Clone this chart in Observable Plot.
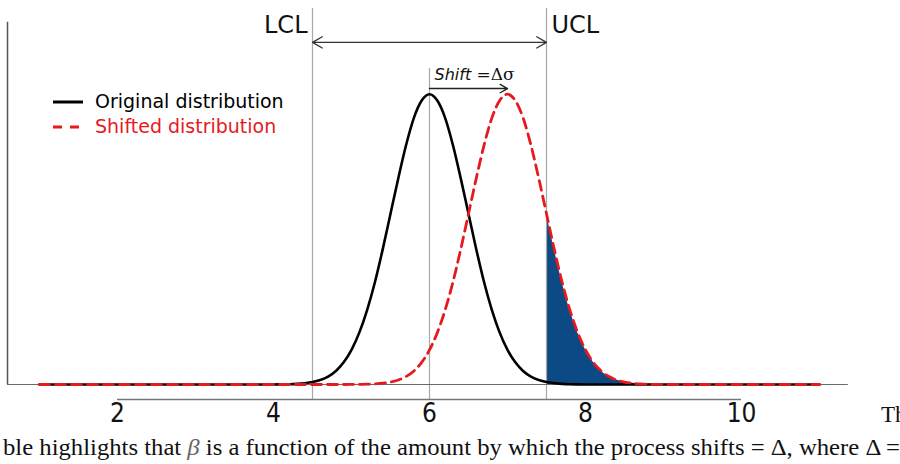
<!DOCTYPE html>
<html>
<head>
<meta charset="utf-8">
<script src="https://cdn.jsdelivr.net/npm/d3@7"></script>
<script src="https://cdn.jsdelivr.net/npm/@observablehq/plot@0.6"></script>
<style>
  html, body { margin: 0; padding: 0; background: #fff; overflow: hidden; width: 900px; height: 464px; }
  #wrap { position: relative; width: 900px; height: 464px; }
  #legend { position: absolute; left: 53px; top: 89px; font-family: "DejaVu Sans", sans-serif; font-size: 19px; line-height: 25px; }
  #legend .row { display: flex; align-items: center; white-space: nowrap; }
  #legend svg { margin-right: 12px; }
  #para-start { position: absolute; left: 881px; top: 403px; font-family: "Liberation Serif", serif; font-size: 23px; line-height: 1; color: #111; }
  #caption { display: block; }
</style>
</head>
<body>
<div id="wrap">
  <div id="chart"></div>
  <div id="legend"></div>
  <div id="para-start">Th</div>
  <svg id="caption" width="900" height="34">
    <text x="3" y="25" textLength="897" lengthAdjust="spacingAndGlyphs"
          font-family="Liberation Serif, serif" font-size="24" fill="#111">ble highlights that <tspan font-style="italic" fill="#666">β</tspan> is a function of the amount by which the process shifts = Δ, where Δ =</text>
  </svg>
</div>
<script>
// Sample positions along the measurement axis
const xs = [1, 2, 3, 3.5,
  4.0, 4.1, 4.2, 4.3, 4.4, 4.5, 4.6, 4.7, 4.8, 4.9,
  5.0, 5.1, 5.2, 5.3, 5.4, 5.5, 5.6, 5.7, 5.8, 5.9,
  6.0,
  6.1, 6.2, 6.3, 6.4, 6.5, 6.6, 6.7, 6.8, 6.9, 7.0,
  7.1, 7.2, 7.3, 7.4, 7.5, 7.6, 7.7, 7.8, 7.9, 8.0,
  8.1, 8.2, 8.3, 8.4, 8.5, 8.6, 8.7, 8.8, 8.9, 9.0,
  9.5, 10, 11];

// In-control process density (centred on 6)
const original = [0, 0, 0, 0,
  0.0001, 0.0004, 0.0008, 0.0018, 0.0036, 0.0069, 0.0128, 0.0226, 0.0385, 0.0629,
  0.0982, 0.147, 0.211, 0.290, 0.383, 0.484, 0.585, 0.679, 0.756, 0.805,
  0.823,
  0.805, 0.756, 0.679, 0.585, 0.484, 0.383, 0.290, 0.211, 0.147, 0.0982,
  0.0629, 0.0385, 0.0226, 0.0128, 0.0069, 0.0036, 0.0018, 0.0008, 0.0004, 0.0001,
  0, 0, 0, 0, 0, 0, 0, 0, 0, 0,
  0, 0, 0];

// Density after the mean shift (centred on 7)
const shifted = [0, 0, 0, 0,
  0, 0, 0, 0, 0, 0, 0, 0, 0, 0,
  0.0001, 0.0004, 0.0008, 0.0018, 0.0036, 0.0069, 0.0128, 0.0226, 0.0385, 0.0629,
  0.0982,
  0.147, 0.211, 0.290, 0.383, 0.484, 0.585, 0.679, 0.756, 0.805, 0.823,
  0.805, 0.756, 0.679, 0.585, 0.484, 0.383, 0.290, 0.211, 0.147, 0.0982,
  0.0629, 0.0385, 0.0226, 0.0128, 0.0069, 0.0036, 0.0018, 0.0008, 0.0004, 0.0001,
  0, 0, 0];

const limitLabels = ["LCL", "UCL"];
const limitValues = [4.5, 7.5];
const means = [6, 7];
const xTicks = [2, 4, 6, 8, 10];
const seriesLabels = ["Original distribution", "Shifted distribution"];
const shiftLabel = ["Shift", " =Δσ"];

// Layout constants (in data units of the y scale)
const Y_MAX = 1.066;
const AXIS_Y = -0.0425;
const FRAME_X = [0.59, 11.37];
const FRAME_TOP = 1.027;
const MEAN_RULE_TOP = 0.896;
const LIMIT_ARROW_Y = 0.970;
const LIMIT_LABEL_Y = 1.018;
const SHIFT_ARROW_Y = 0.839;
const SHIFT_LABEL_Y = 0.879;

const RED = "#e6191f";
const BLUE = "#0b4a84";

const rows = xs.map((x, i) => ({x, original: original[i], shifted: shifted[i]}));
const tail = rows.filter(d => d.x >= limitValues[1] && d.x <= 9);
const limits = limitLabels.map((label, i) => ({label, x: limitValues[i]}));
const mid = (limitValues[0] + limitValues[1]) / 2;

const chart = Plot.plot({
  width: 900,
  height: 430,
  marginLeft: 39,
  marginRight: 81,
  marginTop: 8,
  marginBottom: 46,
  x: {domain: [1, 11], axis: null, label: null},
  y: {domain: [0, Y_MAX], axis: null},
  style: {fontFamily: "DejaVu Sans, sans-serif", background: "white", overflow: "visible"},
  marks: [
    // beta region: shifted density beyond the UCL
    Plot.areaY(tail, {x: "x", y: "shifted", fill: BLUE, curve: "monotone-x"}),
    // control limits and in-control mean
    Plot.ruleX(limitValues, {y1: AXIS_Y, y2: Y_MAX, stroke: "#a8a8a8", strokeWidth: 1.2}),
    Plot.ruleX([means[0]], {y1: AXIS_Y, y2: MEAN_RULE_TOP, stroke: "#a8a8a8", strokeWidth: 1.2}),
    // plot frame (left and bottom)
    Plot.ruleY([0], {x1: FRAME_X[0], x2: FRAME_X[1], stroke: "#6a6a6a", strokeWidth: 1.2}),
    Plot.ruleX([FRAME_X[0]], {y1: 0, y2: FRAME_TOP, stroke: "#555", strokeWidth: 1.5}),
    // detached x axis line
    Plot.ruleY([AXIS_Y], {x1: () => xTicks[0], x2: () => xTicks[xTicks.length - 1], stroke: "#777", strokeWidth: 1.3}),
    Plot.axisX(xTicks, {tickSize: 0, tickPadding: 19, label: null, fontSize: 26, fontFamily: "Liberation Sans Narrow, DejaVu Sans Condensed, sans-serif", fill: "#111"}),
    // distributions
    Plot.line(rows, {x: "x", y: "original", stroke: "#000", strokeWidth: 2.6, curve: "monotone-x"}),
    Plot.line(rows, {x: "x", y: "shifted", stroke: RED, strokeWidth: 2.8, strokeDasharray: "10,6", curve: "monotone-x"}),
    // LCL <-> UCL span
    Plot.arrow(limitValues, {x1: () => mid, x2: d => d, y1: LIMIT_ARROW_Y, y2: LIMIT_ARROW_Y, stroke: "#333", strokeWidth: 1.3, headLength: 13}),
    Plot.text(limits.slice(0, 1), {x: "x", y: LIMIT_LABEL_Y, text: "label", textAnchor: "end", dx: -5, fontSize: 24, fill: "#111"}),
    Plot.text(limits.slice(1), {x: "x", y: LIMIT_LABEL_Y, text: "label", textAnchor: "start", dx: 5, fontSize: 24, fill: "#111"}),
    // mean shift
    Plot.arrow([means], {x1: d => d[0], x2: d => d[1], y1: SHIFT_ARROW_Y, y2: SHIFT_ARROW_Y, stroke: "#222", strokeWidth: 1.4, headLength: 9}),
    Plot.text([shiftLabel.join("")], {x: means[0], y: SHIFT_LABEL_Y, text: d => d, textAnchor: "start", dx: 5, fontSize: 16, fill: "#111", className: "shift-label"})
  ]
});
document.getElementById("chart").append(chart);

// Italic "Shift" followed by an upright "=Δσ"
d3.select(chart).selectAll(".shift-label text").each(function () {
  const t = d3.select(this);
  t.text(null);
  t.append("tspan").attr("font-style", "italic").text(shiftLabel[0]);
  t.append("tspan").attr("font-family", "DejaVu Serif, serif").attr("font-size", 17).text(shiftLabel[1]);
});

// Legend
const legend = d3.select("#legend");
const styles = [{stroke: "#000", dash: null, color: "#000"}, {stroke: RED, dash: "9,8", color: RED}];
seriesLabels.forEach((label, i) => {
  const row = legend.append("div").attr("class", "row");
  const s = row.append("svg").attr("width", 30).attr("height", 25);
  s.append("line").attr("x1", 0).attr("x2", 30).attr("y1", 13).attr("y2", 13)
    .attr("stroke", styles[i].stroke).attr("stroke-width", 3)
    .attr("stroke-dasharray", styles[i].dash);
  row.append("span").style("color", styles[i].color).text(label);
});
</script>
</body>
</html>
